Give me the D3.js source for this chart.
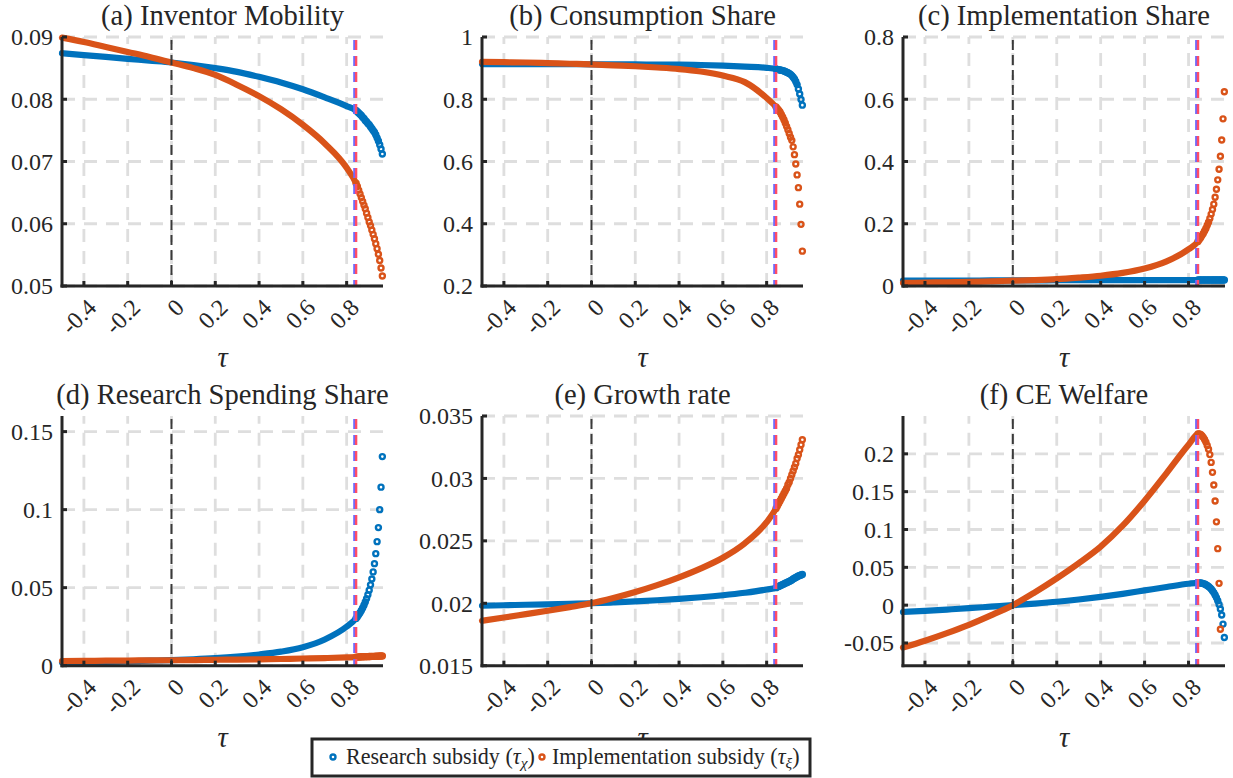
<!DOCTYPE html>
<html><head><meta charset="utf-8">
<script src="https://cdn.jsdelivr.net/npm/d3@7"></script>
<style>
body{margin:0;background:#fff;}
</style></head><body>
<svg id="chart" width="1233" height="778"></svg>
<script>
// ---------------- DATA ----------------
const tauKnots = [-0.5,-0.4,-0.3,-0.2,-0.1,0,0.1,0.2,0.3,0.4,0.5,0.6,0.7,0.8];
const tauTail  = [0.843,0.849,0.855,0.861,0.867,0.873,0.879,0.885,0.891,0.897,0.903,0.909,0.915,0.921,0.927,0.933,0.939,0.945,0.951,0.957,0.963];
const xTicks = [-0.4,-0.2,0,0.2,0.4,0.6,0.8];
const xTickLabels = ["-0.4","-0.2","0","0.2","0.4","0.6","0.8"];
const optimalTau = 0.84;
const seriesNames = ["Research subsidy", "Implementation subsidy"];
const panelTitles = ["(a) Inventor Mobility","(b) Consumption Share","(c) Implementation Share","(d) Research Spending Share","(e) Growth rate","(f) CE Welfare"];

// (a) Inventor Mobility
const mobilityResearch     = [0.0874,0.0871,0.0868,0.0865,0.0862,0.0859,0.0855,0.0850,0.0844,0.0836,0.0827,0.0816,0.0803,0.0789];
const mobilityResearchTail = [0.0782,0.0780,0.0778,0.0776,0.0774,0.0771,0.0769,0.0766,0.0764,0.0761,0.0759,0.0756,0.0753,0.0750,0.0747,0.0743,0.0738,0.0733,0.0727,0.0720,0.0712];
const mobilityImpl         = [0.0899,0.0892,0.0884,0.0876,0.0868,0.0859,0.0850,0.0839,0.0823,0.0805,0.0784,0.0759,0.0729,0.0690];
const mobilityImplTail     = [0.0665,0.0660,0.0654,0.0648,0.0642,0.0636,0.0630,0.0624,0.0617,0.0610,0.0603,0.0597,0.0590,0.0583,0.0576,0.0568,0.0560,0.0551,0.0541,0.0529,0.0516];
const mobilityYTicks = [0.05,0.06,0.07,0.08,0.09];
const mobilityYDomain = [0.05,0.09];

// (b) Consumption Share
const consResearch     = [0.913,0.913,0.913,0.913,0.913,0.912,0.912,0.912,0.911,0.911,0.910,0.908,0.905,0.901];
const consResearchTail = [0.897,0.896,0.895,0.894,0.893,0.892,0.891,0.889,0.887,0.885,0.883,0.880,0.876,0.871,0.865,0.857,0.847,0.833,0.817,0.799,0.781];
const consImpl         = [0.920,0.919,0.918,0.916,0.914,0.912,0.909,0.906,0.902,0.897,0.889,0.876,0.855,0.804];
const consImplTail     = [0.775,0.770,0.765,0.759,0.751,0.743,0.734,0.724,0.713,0.702,0.690,0.678,0.668,0.647,0.622,0.592,0.557,0.516,0.463,0.398,0.312];
const consYTicks = [0.2,0.4,0.6,0.8,1];
const consYDomain = [0.2,1];

// (c) Implementation Share
const implShareResearch     = [0.0170,0.0172,0.0174,0.0176,0.0178,0.0180,0.0182,0.0184,0.0186,0.0187,0.0188,0.0189,0.0190,0.0191];
const implShareResearchTail = [0.0191,0.0191,0.0192,0.0192,0.0192,0.0192,0.0193,0.0193,0.0193,0.0193,0.0193,0.0194,0.0194,0.0194,0.0194,0.0194,0.0195,0.0195,0.0195,0.0195,0.0195];
const implShareImpl         = [0.010,0.011,0.012,0.013,0.015,0.017,0.019,0.022,0.027,0.033,0.042,0.056,0.079,0.118];
const implShareImplTail     = [0.143,0.149,0.155,0.162,0.169,0.177,0.185,0.195,0.205,0.217,0.231,0.246,0.263,0.285,0.311,0.341,0.375,0.417,0.469,0.537,0.624];
const implShareYTicks = [0,0.2,0.4,0.6,0.8];
const implShareYDomain = [0,0.8];

// (d) Research Spending Share
const resShareResearch     = [0.0020,0.0022,0.0025,0.0028,0.0032,0.0036,0.0041,0.0048,0.0058,0.0072,0.0090,0.0118,0.0168,0.0250];
const resShareResearchTail = [0.0303,0.0314,0.0326,0.0339,0.0354,0.0370,0.0388,0.0408,0.0430,0.0455,0.0484,0.0518,0.0556,0.0601,0.0654,0.0718,0.0795,0.0885,0.1000,0.1144,0.1340];
const resShareImpl         = [0.0030,0.0031,0.0032,0.0033,0.0034,0.0035,0.0036,0.0038,0.0039,0.0041,0.0043,0.0046,0.0049,0.0053];
const resShareImplTail     = [0.0055,0.0055,0.0056,0.0056,0.0057,0.0057,0.0057,0.0058,0.0058,0.0058,0.0059,0.0059,0.0060,0.0060,0.0060,0.0061,0.0061,0.0061,0.0062,0.0062,0.0062];
const resShareYTicks = [0,0.05,0.1,0.15];
const resShareYDomain = [0,0.16];

// (e) Growth rate
const growthResearch     = [0.01980,0.01984,0.01988,0.01992,0.01996,0.02000,0.02007,0.02015,0.02024,0.02035,0.02048,0.02064,0.02084,0.02110];
const growthResearchTail = [0.02125,0.02130,0.02135,0.02140,0.02145,0.02150,0.02155,0.02160,0.02165,0.02170,0.02175,0.02180,0.02187,0.02194,0.02200,0.02207,0.02213,0.02218,0.02222,0.02226,0.02230];
const growthImpl         = [0.01860,0.01886,0.01913,0.01940,0.01969,0.02000,0.02042,0.02090,0.02145,0.02208,0.02280,0.02365,0.02480,0.02650];
const growthImplTail     = [0.0276,0.0278,0.0280,0.0282,0.0284,0.0286,0.0288,0.0290,0.0292,0.0295,0.0297,0.0300,0.0303,0.0306,0.0309,0.0312,0.0316,0.0319,0.0323,0.0327,0.0331];
const growthYTicks = [0.015,0.02,0.025,0.03,0.035];
const growthYDomain = [0.015,0.035];

// (f) CE Welfare
const welfareResearch     = [-0.0090,-0.0075,-0.0058,-0.0040,-0.0020,0.0000,0.0021,0.0045,0.0075,0.0110,0.0150,0.0195,0.0240,0.0283];
const welfareResearchTail = [0.0295,0.0295,0.0293,0.0290,0.0285,0.0279,0.0271,0.0260,0.0247,0.0232,0.0214,0.0192,0.0166,0.0136,0.0100,0.0058,0.0010,-0.0050,-0.0130,-0.0250,-0.0428];
const welfareImpl         = [-0.0560,-0.0470,-0.0370,-0.0260,-0.0135,0.0000,0.0170,0.0355,0.0555,0.0775,0.1050,0.1380,0.1745,0.2120];
const welfareImplTail     = [0.2262,0.2264,0.2256,0.2240,0.2218,0.2190,0.2155,0.2110,0.2060,0.1990,0.1887,0.1755,0.1588,0.1376,0.1101,0.0747,0.0288,-0.0318];
const welfareYTicks = [-0.05,0,0.05,0.1,0.15,0.2];
const welfareYDomain = [-0.08,0.25];

// ---------------- FONT PICK ----------------
const cv = document.createElement("canvas").getContext("2d");
function wOf(str, fam) { cv.font = "100px " + fam; return cv.measureText(str).width; }
const probe = "abcdefghijklmnopqrstuvwxyzABCDEFGHIJKLMNOPQRSTUVWXYZ0123456789";
const candidates = ["Liberation Serif","Tinos","Times New Roman","DejaVu Serif","Noto Serif","FreeSerif","Nimbus Roman","TeX Gyre Termes","Latin Modern Roman","CMU Serif","STIX Two Text","Georgia"];
let family = null;
for (const c of candidates) {
  const a = wOf(probe, `'${c}', monospace`), m = wOf(probe, "monospace");
  const b = wOf(probe, `'${c}', sans-serif`), s = wOf(probe, "sans-serif");
  if (Math.abs(a - m) > 0.5 && Math.abs(b - s) > 0.5) { family = c; break; }
}
const FONT = family ? `'${family}', serif` : "'Liberation Serif', serif";
function sizeFor(str, target) { return 100 * target / wOf(str, FONT); }
const tickSize  = Math.min(26, sizeFor("0.09", 42));
const titleSize = Math.min(30, sizeFor("(a) Inventor Mobility", 243));
const legendSize = Math.min(26, 100 * 190 / (wOf("Research subsidy (τ)", FONT) + 0.7 * wOf("χ", FONT)));

// ---------------- LAYOUT / STYLE ----------------
const colors = ["#0072BD","#D95319"];
const cols = [[62,383],[482,803],[903,1225]];
const rows = [[37,286],[416,665.7]];
const xDomain = [-0.5,0.966];

const panels = [
  {title:panelTitles[0], s:[[mobilityResearch,mobilityResearchTail],[mobilityImpl,mobilityImplTail]], yt:mobilityYTicks, yd:mobilityYDomain},
  {title:panelTitles[1], s:[[consResearch,consResearchTail],[consImpl,consImplTail]], yt:consYTicks, yd:consYDomain},
  {title:panelTitles[2], s:[[implShareResearch,implShareResearchTail],[implShareImpl,implShareImplTail]], yt:implShareYTicks, yd:implShareYDomain},
  {title:panelTitles[3], s:[[resShareResearch,resShareResearchTail],[resShareImpl,resShareImplTail]], yt:resShareYTicks, yd:resShareYDomain},
  {title:panelTitles[4], s:[[growthResearch,growthResearchTail],[growthImpl,growthImplTail]], yt:growthYTicks, yd:growthYDomain},
  {title:panelTitles[5], s:[[welfareResearch,welfareResearchTail],[welfareImpl,welfareImplTail]], yt:welfareYTicks, yd:welfareYDomain}
];

const svg = d3.select("#chart").attr("font-family", FONT);
svg.append("rect").attr("width",1233).attr("height",778).attr("fill","#fff");

const fmt = v => String(+v.toFixed(4));

panels.forEach((p, i) => {
  const [l, r] = cols[i % 3];
  const [t, b] = rows[Math.floor(i / 3)];
  const x = d3.scaleLinear().domain(xDomain).range([l, r]);
  const y = d3.scaleLinear().domain(p.yd).range([b, t]);
  const g = svg.append("g");

  // grid
  const grid = g.append("g").attr("stroke","#dedede").attr("stroke-width",2.8).attr("stroke-dasharray","13,9");
  xTicks.forEach(v => grid.append("line").attr("x1",x(v)).attr("x2",x(v)).attr("y1",b).attr("y2",t));
  p.yt.forEach(v => grid.append("line").attr("x1",l).attr("x2",r).attr("y1",y(v)).attr("y2",y(v)));

  // series
  p.s.forEach(([knots, tail], k) => {
    const pts = tauKnots.map((tv, j) => [x(tv), y(knots[j])]);
    const tailPts = tail.map((v, j) => [x(tauTail[j]), y(v)]);
    const all = pts.concat(tailPts);
    let cut = all.length;
    for (let j = pts.length + 1; j < all.length; j++) {
      const dx = all[j][0]-all[j-1][0], dy = all[j][1]-all[j-1][1];
      if (Math.hypot(dx, dy) > 3.6) { cut = j; break; }
    }
    g.append("path").datum(all.slice(0, cut))
      .attr("d", d3.line().curve(d3.curveMonotoneX))
      .attr("fill","none").attr("stroke",colors[k]).attr("stroke-width",6.2)
      .attr("stroke-linecap","round").attr("stroke-linejoin","round");
    g.selectAll(null).data(tailPts).join("circle")
      .attr("cx", d => d[0]).attr("cy", d => d[1]).attr("r", 2.5)
      .attr("fill","none").attr("stroke",colors[k]).attr("stroke-width",2.4);
  });

  // reference lines
  g.append("line").attr("x1",x(0)).attr("x2",x(0)).attr("y1",t+3).attr("y2",b)
    .attr("stroke","#3a3a3a").attr("stroke-width",2).attr("stroke-dasharray","10,5");
  g.append("line").attr("x1",x(optimalTau)-1.2).attr("x2",x(optimalTau)-1.2).attr("y1",t+3).attr("y2",b)
    .attr("stroke","#6a6aff").attr("stroke-width",2).attr("stroke-dasharray","10,6");
  g.append("line").attr("x1",x(optimalTau)+0.7).attr("x2",x(optimalTau)+0.7).attr("y1",t+3).attr("y2",b)
    .attr("stroke","#ff4d66").attr("stroke-width",2.4).attr("stroke-dasharray","10,6");

  // axes
  const ax = g.append("g").attr("stroke","#262626");
  ax.append("line").attr("x1",l).attr("x2",l).attr("y1",t).attr("y2",b+1.5).attr("stroke-width",3);
  ax.append("line").attr("x1",l-1.5).attr("x2",r).attr("y1",b).attr("y2",b).attr("stroke-width",3);
  xTicks.forEach(v => ax.append("line").attr("x1",x(v)).attr("x2",x(v)).attr("y1",b).attr("y2",b-5).attr("stroke-width",3));
  p.yt.forEach(v => ax.append("line").attr("x1",l).attr("x2",l+5).attr("y1",y(v)).attr("y2",y(v)).attr("stroke-width",3));

  // tick labels
  p.yt.forEach(v => g.append("text").attr("x", l-9).attr("y", y(v)).attr("dy","0.35em")
    .attr("text-anchor","end").attr("font-size",tickSize).attr("fill","#262626").text(fmt(v)));
  xTicks.forEach((v, j) => {
    const ax0 = x(v) + 8, ay0 = b + 17;
    g.append("text").attr("transform",`translate(${ax0},${ay0}) rotate(-45)`)
      .attr("dy","0.35em").attr("text-anchor","end").attr("font-size",tickSize).attr("fill","#262626")
      .text(xTickLabels[j]);
  });

  // title
  g.append("text").attr("x",(l+r)/2).attr("y",t-12).attr("text-anchor","middle")
    .attr("font-size",titleSize).attr("fill","#262626").text(p.title);
  // x label
  g.append("text").attr("x",(l+r)/2).attr("y",b+81).attr("text-anchor","middle")
    .attr("font-size",titleSize).attr("font-style","italic").attr("fill","#262626").text("τ");
});

// legend
const lg = svg.append("g");
lg.append("rect").attr("x",312).attr("y",739).attr("width",498).attr("height",37)
  .attr("fill","#fff").attr("stroke","#262626").attr("stroke-width",3);
const legItems = [
  {cx:333, tx:346, name:seriesNames[0], sub:"χ"},
  {cx:542, tx:552, name:seriesNames[1], sub:"ξ"}
];
legItems.forEach((it, k) => {
  lg.append("circle").attr("cx",it.cx).attr("cy",757).attr("r",2.5)
    .attr("fill","none").attr("stroke",colors[k]).attr("stroke-width",2.4);
  const tx = lg.append("text").attr("x",it.tx).attr("y",764).attr("font-size",legendSize).attr("fill","#262626");
  tx.append("tspan").text(it.name + " (");
  tx.append("tspan").attr("font-style","italic").text("τ");
  tx.append("tspan").attr("font-style","italic").attr("font-size",legendSize*0.7).attr("dy",4).text(it.sub);
  tx.append("tspan").attr("dy",-4).text(")");
});
</script>
</body></html>
